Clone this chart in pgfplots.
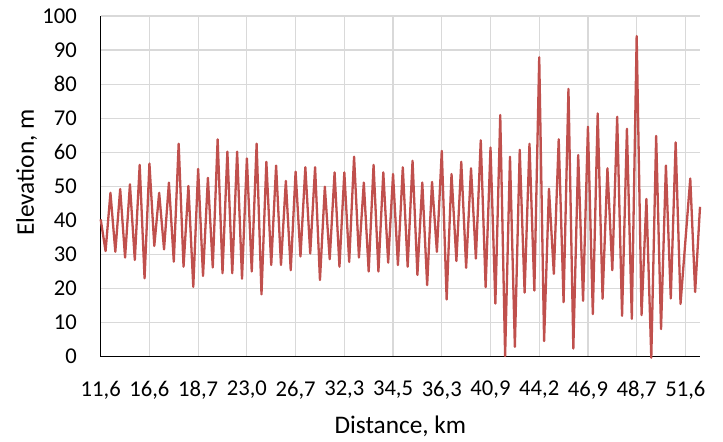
\documentclass[border=0pt]{standalone}
\usepackage{pgfplots}
\pgfplotsset{compat=1.18}
\usepackage{pgfplotstable}
\usepackage{fontspec}
\setmainfont{Carlito}
\definecolor{linered}{HTML}{C0504D}
\definecolor{gridgray}{HTML}{D9D9D9}
\pgfplotstableread{
i y
0 40.3
1 31
2 48.1
3 30.8
4 49.2
5 29.1
6 50.6
7 28.4
8 56.3
9 23
10 56.7
11 32.5
12 48.1
13 31.5
14 51.1
15 27.9
16 62.5
17 26.4
18 50.1
19 20.5
20 55.1
21 23.7
22 52.5
23 26.2
24 63.8
25 24.5
26 60.2
27 24.5
28 60.2
29 22.9
30 58.2
31 25
32 62.5
33 18.3
34 57.2
35 26.9
36 56.1
37 26.9
38 51.6
39 25.4
40 54.3
41 29.4
42 55.6
43 30.3
44 55.6
45 22.5
46 49.9
47 28.6
48 54.1
49 26.4
50 54.1
51 27.8
52 58.7
53 29.1
54 51.1
55 25
56 56.3
57 25
58 54.1
59 27.6
60 53.6
61 26.9
62 55.6
63 26.4
64 57.5
65 24
66 51.1
67 21
68 51.3
69 30.8
70 60.4
71 16.8
72 53.6
73 28.1
74 57.2
75 26.1
76 55.3
77 28.8
78 63.5
79 20.4
80 61.4
81 15.6
82 70.9
83 0.2
84 58.7
85 2.9
86 60.7
87 18.8
88 62.5
89 19.4
90 87.9
91 4.6
92 49.3
93 24.3
94 63.8
95 16
96 78.6
97 2.4
98 59.2
99 16.4
100 67.5
101 12.5
102 71.4
103 17
104 55.3
105 25.4
106 70.4
107 12
108 66.9
109 11.1
110 94.1
111 12.2
112 46.3
113 -0.3
114 64.8
115 8.1
116 56.1
117 17.1
118 62.9
119 15.5
120 34
121 52.3
122 19
123 44
}\elev
\begin{document}
\begin{tikzpicture}[x=1bp,y=1bp]
\useasboundingbox (0,0) rectangle (723,442);
\begin{axis}[
  at={(100.7bp,85.3bp)}, anchor=south west,
  scale only axis, width=599.3bp, height=340.7bp,
  xmin=0, xmax=123, ymin=0, ymax=100,
  xtick={0,10,...,120},
  xticklabels={{11,6},{16,6},{18,7},{23,0},{26,7},{32,3},{34,5},{36,3},{40,9},{44,2},{46,9},{48,7},{51,6}},
  ytick={0,10,...,100},
  grid=major,
  major grid style={draw=gridgray, line width=1.2bp},
  axis x line*=bottom, axis y line*=left,
  axis line style={black, line width=1.2bp, -},
  major tick length=0pt,
  tick label style={font=\fontsize{22.7}{27}\selectfont},
  /pgf/number format/assume math mode=true,
  yticklabel style={anchor=east, inner sep=0pt, xshift=-23.7bp},
  xticklabel style={anchor=north, inner sep=0pt, yshift=-24bp},
  xlabel={Distance, km}, ylabel={Elevation, m},
  label style={font=\fontsize{25.4}{30}\selectfont},
  xlabel style={at={(axis description cs:0.5,-0.1732)}, anchor=north, inner sep=0pt},
  ylabel style={at={(axis description cs:-0.1413,0.54)}, anchor=north, inner sep=0pt},
  clip=false,
]
\addplot[linered, line width=2.3bp, mark=none, line join=round] table[x=i, y=y] {\elev};
\end{axis}
\end{tikzpicture}
\end{document}
